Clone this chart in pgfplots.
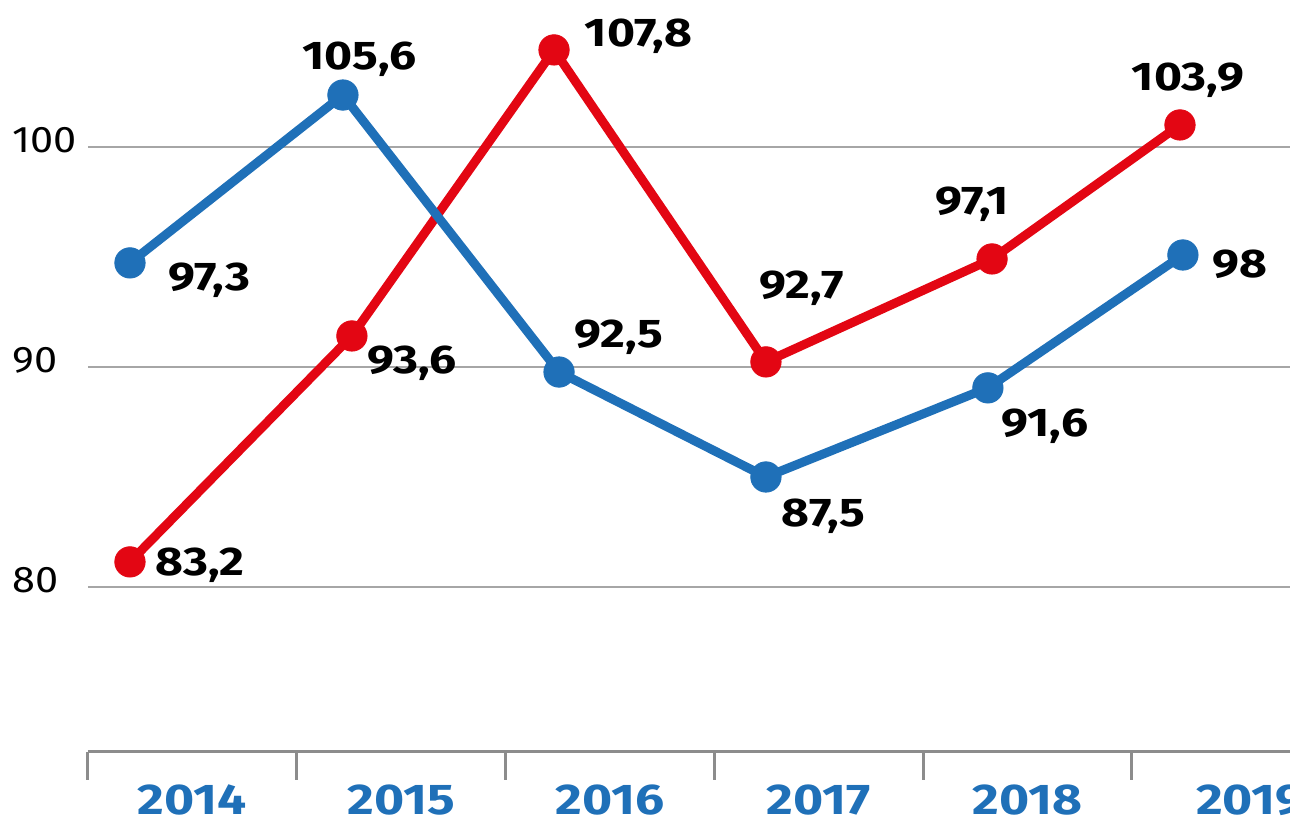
\documentclass[border=0pt]{standalone}
\usepackage{fontspec}
\setmainfont{Fira Sans}
\newfontface\lblfont[FakeStretch=1.2]{Fira Sans Bold}
\newfontface\tickfont[FakeStretch=1.12]{Fira Sans}
\usepackage{pgfplots}
\pgfplotsset{compat=1.18}
\definecolor{cblue}{HTML}{1F70B8}
\definecolor{cred}{HTML}{E30613}
\definecolor{cgrid}{HTML}{A6A6A6}
\definecolor{caxis}{HTML}{8C8C8C}
\begin{document}
\begin{tikzpicture}
\useasboundingbox (-44pt,-35.5pt) rectangle (601pt,376pt);
\begin{axis}[
 at={(0pt,0pt)}, anchor=south west,
 scale only axis, width=601pt, height=376pt,
 xmin=0, xmax=5.757, ymin=72.5, ymax=106.68,
 axis lines*=left,
 y axis line style={draw=none},
 x axis line style={caxis, line width=1.5pt},
 xtick={0,1,2,3,4,5}, xticklabels={},
 xtick align=outside,
 xtick style={caxis, line width=1.5pt},
 major tick length=14pt,
 extra x ticks={0.5,1.5,2.5,3.5,4.5,5.567},
 extra x tick labels={2014,2015,2016,2017,2018,2019},
 extra x tick style={major tick length=0pt, tick style={draw=none},
   xticklabel style={anchor=center, yshift=-24pt, inner sep=0pt, text=cblue,
   font=\lblfont\fontsize{21.5}{21.5}\selectfont}},
 ytick={80,90,100},
 ytick style={draw=none},
 ymajorgrids, grid style={cgrid, line width=1.3pt},
 yticklabel style={anchor=west, xshift=-38pt, yshift=3.5pt, inner sep=0pt,
   font=\tickfont\fontsize{18.5}{18.5}\selectfont},
 /pgf/number format/assume math mode=true,
 clip=false,
]
\addplot[cred, line width=4.5pt, line join=round, mark=*, mark size=7.6pt,
  mark options={solid, line width=0.4pt, fill=cred}] coordinates {
 (0.201,81.14) (1.264,91.41) (2.232,104.41) (3.247,90.23) (4.330,94.91) (5.230,101.0)};
\addplot[cblue, line width=4.5pt, line join=round, mark=*, mark size=7.6pt,
  mark options={solid, line width=0.4pt, fill=cblue}] coordinates {
 (0.201,94.73) (1.221,102.36) (2.256,89.77) (3.247,85.00) (4.310,89.05) (5.244,95.09)};
\addplot[draw=none, mark=none, nodes near coords, point meta=explicit symbolic,
  nodes near coords style={anchor=center, text=black, inner sep=0pt, text depth=0pt,
  font=\lblfont\fontsize{20}{20}\selectfont}] table[meta=lab] {
x y lab
0.580 94.11 97,3
1.300 104.14 105,6
2.543 91.52 92,5
3.523 83.36 87,5
4.583 87.45 91,6
5.517 94.70 98
0.536 81.14 83,2
1.552 90.32 93,6
2.637 105.20 107,8
3.420 93.73 92,7
4.234 97.55 97,1
5.268 103.18 103,9
};
\end{axis}
\end{tikzpicture}
\end{document}
